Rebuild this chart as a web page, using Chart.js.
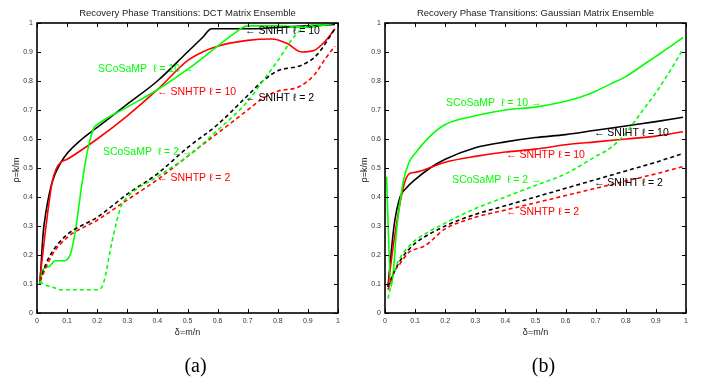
<!DOCTYPE html>
<html>
<head>
<meta charset="utf-8">
<script src="https://cdn.jsdelivr.net/npm/chart.js@4/dist/chart.umd.min.js"></script>
<style>
  html, body { margin: 0; padding: 0; background: #fff; }
  #wrap { position: relative; width: 708px; height: 381px; overflow: hidden; }
  canvas { position: absolute; top: 0; }
</style>
</head>
<body>
<div id="wrap">
  <canvas id="dct" width="354" height="381" style="left:0"></canvas>
  <canvas id="gauss" width="354" height="381" style="left:354px"></canvas>
</div>
<script>
// axis ticks (both panels)
const tickValues = [0, 0.1, 0.2, 0.3, 0.4, 0.5, 0.6, 0.7, 0.8, 0.9, 1];

// (a) DCT matrix ensemble, points are [delta, rho]
const dctSnihtL10 = [[0.01,0.10],[0.02,0.27],[0.03,0.35],[0.05,0.45],[0.08,0.52],[0.1,0.55],[0.15,0.60],[0.2,0.64],[0.3,0.72],[0.4,0.80],[0.5,0.90],[0.55,0.95],[0.58,0.98],[0.62,0.98],[0.7,0.98],[0.8,0.985],[0.9,0.99],[0.99,0.995]];
const dctSnhtpL10 = [[0.01,0.12],[0.03,0.30],[0.05,0.45],[0.065,0.50],[0.08,0.52],[0.1,0.53],[0.2,0.60],[0.3,0.68],[0.4,0.77],[0.5,0.87],[0.55,0.90],[0.6,0.92],[0.7,0.94],[0.78,0.945],[0.83,0.93],[0.88,0.90],[0.92,0.905],[0.96,0.94],[0.99,0.98]];
const dctScosampL10 = [[0.01,0.10],[0.02,0.15],[0.04,0.16],[0.06,0.18],[0.09,0.18],[0.11,0.20],[0.12,0.24],[0.13,0.30],[0.15,0.45],[0.17,0.57],[0.19,0.64],[0.2,0.65],[0.3,0.71],[0.4,0.77],[0.5,0.84],[0.6,0.92],[0.65,0.96],[0.7,0.99],[0.8,0.99],[0.9,0.985],[0.99,1.0]];
const dctSnihtL2 = [[0.01,0.11],[0.03,0.17],[0.05,0.21],[0.1,0.27],[0.2,0.33],[0.3,0.41],[0.4,0.48],[0.5,0.57],[0.6,0.65],[0.7,0.75],[0.75,0.80],[0.8,0.835],[0.88,0.855],[0.93,0.89],[0.99,0.98]];
const dctSnhtpL2 = [[0.01,0.11],[0.05,0.20],[0.1,0.26],[0.2,0.32],[0.3,0.39],[0.4,0.46],[0.5,0.54],[0.6,0.62],[0.7,0.70],[0.75,0.74],[0.8,0.765],[0.87,0.78],[0.92,0.82],[0.96,0.88],[0.99,0.92]];
const dctScosampL2 = [[0.01,0.11],[0.02,0.10],[0.05,0.09],[0.08,0.08],[0.15,0.08],[0.2,0.08],[0.22,0.10],[0.25,0.25],[0.28,0.37],[0.3,0.40],[0.4,0.47],[0.5,0.54],[0.6,0.63],[0.7,0.73],[0.75,0.80],[0.8,0.87],[0.86,0.96],[0.9,0.99],[0.95,0.995],[0.99,1.0]];

// (b) Gaussian matrix ensemble
const gaussSnihtL10 = [[0.01,0.09],[0.03,0.30],[0.05,0.40],[0.07,0.43],[0.1,0.46],[0.15,0.50],[0.2,0.53],[0.3,0.57],[0.4,0.59],[0.5,0.605],[0.6,0.615],[0.7,0.63],[0.8,0.645],[0.9,0.66],[0.99,0.675]];
const gaussSnhtpL10 = [[0.01,0.09],[0.03,0.25],[0.06,0.43],[0.08,0.48],[0.1,0.485],[0.2,0.52],[0.3,0.54],[0.4,0.555],[0.5,0.565],[0.6,0.58],[0.7,0.59],[0.8,0.60],[0.9,0.61],[0.99,0.625]];
const gaussScosampL10 = [[0.005,0.47],[0.02,0.09],[0.04,0.30],[0.06,0.45],[0.08,0.52],[0.1,0.55],[0.15,0.61],[0.2,0.65],[0.3,0.68],[0.4,0.70],[0.5,0.71],[0.6,0.73],[0.65,0.745],[0.7,0.765],[0.75,0.79],[0.8,0.815],[0.85,0.85],[0.9,0.885],[0.95,0.92],[0.99,0.95]];
const gaussSnihtL2 = [[0.01,0.09],[0.03,0.14],[0.05,0.18],[0.08,0.22],[0.1,0.24],[0.2,0.30],[0.3,0.34],[0.4,0.37],[0.5,0.40],[0.6,0.43],[0.7,0.46],[0.8,0.49],[0.9,0.52],[0.99,0.55]];
const gaussSnhtpL2 = [[0.01,0.08],[0.03,0.14],[0.05,0.17],[0.08,0.21],[0.1,0.22],[0.13,0.23],[0.2,0.29],[0.3,0.33],[0.4,0.355],[0.5,0.38],[0.6,0.405],[0.7,0.43],[0.8,0.455],[0.9,0.48],[0.99,0.505]];
const gaussScosampL2 = [[0.01,0.05],[0.03,0.14],[0.05,0.19],[0.08,0.23],[0.1,0.25],[0.2,0.31],[0.3,0.36],[0.4,0.40],[0.5,0.44],[0.6,0.48],[0.7,0.54],[0.75,0.57],[0.8,0.62],[0.85,0.69],[0.9,0.76],[0.95,0.84],[0.99,0.91]];

const GREEN = '#00ff00', RED = '#ff0000', BLACK = '#000000';

// text labels placed in data space
const dctNotes = [
  { text: 'SCoSaMP  ℓ = 10 →', x: 0.203, y: 0.841, color: GREEN },
  { text: '← SNHTP ℓ = 10', x: 0.399, y: 0.762, color: RED },
  { text: '← SNIHT ℓ = 10', x: 0.691, y: 0.972, color: BLACK },
  { text: '← SNIHT ℓ = 2', x: 0.691, y: 0.741, color: BLACK },
  { text: 'SCoSaMP  ℓ = 2 →', x: 0.219, y: 0.555, color: GREEN },
  { text: '← SNHTP ℓ = 2', x: 0.399, y: 0.466, color: RED }
];
const gaussNotes = [
  { text: 'SCoSaMP  ℓ = 10 →', x: 0.203, y: 0.724, color: GREEN },
  { text: '← SNIHT ℓ = 10', x: 0.694, y: 0.621, color: BLACK },
  { text: '← SNHTP ℓ = 10', x: 0.402, y: 0.545, color: RED },
  { text: 'SCoSaMP  ℓ = 2 →', x: 0.223, y: 0.459, color: GREEN },
  { text: '← SNIHT ℓ = 2', x: 0.694, y: 0.448, color: BLACK },
  { text: '← SNHTP ℓ = 2', x: 0.402, y: 0.348, color: RED }
];

const SANS = '"Liberation Sans", Arial, sans-serif';

/**
 * Box, inward ticks, titles, caption and labels
 */
const framePlugin = {
  id: 'frame',
  afterDraw(chart, args, opts) {
    const { ctx, chartArea: a, scales: { x, y } } = chart;
    ctx.save();

    // inward tick marks on all four sides
    ctx.beginPath();
    ctx.strokeStyle = '#000';
    ctx.lineWidth = 1;
    for (const v of tickValues) {
      const px = Math.round(x.getPixelForValue(v)) + 0.5;
      ctx.moveTo(px, a.bottom); ctx.lineTo(px, a.bottom - 4);
      ctx.moveTo(px, a.top); ctx.lineTo(px, a.top + 4);
      const py = Math.round(y.getPixelForValue(v)) + 0.5;
      ctx.moveTo(a.left, py); ctx.lineTo(a.left + 4, py);
      ctx.moveTo(a.right, py); ctx.lineTo(a.right - 4, py);
    }
    ctx.stroke();
    ctx.lineWidth = 1.6;
    ctx.strokeRect(a.left, a.top, a.width, a.height);

    const cx = (a.left + a.right) / 2;

    // title
    ctx.fillStyle = '#222';
    ctx.font = '9.5px ' + SANS;
    ctx.textAlign = 'center';
    ctx.textBaseline = 'middle';
    ctx.fillText(opts.title, cx, 13);

    // axis titles
    ctx.font = '9px ' + SANS;
    ctx.fillText('δ=m/n', cx, 333);
    ctx.save();
    ctx.translate(a.left - 20, (a.top + a.bottom) / 2 + 2);
    ctx.rotate(-Math.PI / 2);
    ctx.fillText('ρ=k/m', 0, 0);
    ctx.restore();

    // caption
    ctx.fillStyle = '#000';
    ctx.font = '20px "Liberation Serif", "Times New Roman", serif';
    ctx.fillText(opts.caption, cx + 8, 367);

    // curve labels
    ctx.font = '10.5px ' + SANS;
    ctx.textAlign = 'left';
    for (const n of opts.notes) {
      ctx.fillStyle = n.color;
      ctx.fillText(n.text, x.getPixelForValue(n.x), y.getPixelForValue(n.y));
    }
    ctx.restore();
  }
};

function line(points, color, dashed) {
  return {
    data: points.map(p => ({ x: p[0], y: p[1] })),
    borderColor: color,
    borderWidth: 1.6,
    borderDash: dashed ? [4, 3] : [],
    pointRadius: 0,
    cubicInterpolationMode: 'monotone',
    fill: false
  };
}

function makeChart(id, series, opts) {
  const tickFont = { size: 7, family: SANS };
  return new Chart(document.getElementById(id), {
    type: 'line',
    data: { datasets: series },
    options: {
      responsive: false,
      animation: false,
      layout: { padding: { top: 23, left: 0, right: opts.padRight, bottom: 0 } },
      plugins: {
        legend: { display: false },
        tooltip: { enabled: false },
        frame: opts
      },
      scales: {
        x: {
          type: 'linear', min: 0, max: 1,
          grid: { display: false, drawTicks: false },
          border: { display: false },
          ticks: {
            stepSize: 0.1, font: tickFont, color: '#333', padding: 4, maxRotation: 0,
            callback: v => String(+v.toFixed(1))
          },
          afterFit: s => { s.height = 68; }
        },
        y: {
          type: 'linear', min: 0, max: 1,
          grid: { display: false, drawTicks: false },
          border: { display: false },
          ticks: {
            stepSize: 0.1, font: tickFont, color: '#333', padding: 4,
            callback: v => String(+v.toFixed(1))
          },
          afterFit: s => { s.width = opts.axisWidth; }
        }
      }
    },
    plugins: [framePlugin]
  });
}

makeChart('dct', [
  line(dctScosampL2, GREEN, true),
  line(dctSnhtpL2, RED, true),
  line(dctSnihtL2, BLACK, true),
  line(dctScosampL10, GREEN, false),
  line(dctSnhtpL10, RED, false),
  line(dctSnihtL10, BLACK, false)
], {
  title: 'Recovery Phase Transitions: DCT Matrix Ensemble',
  caption: '(a)',
  notes: dctNotes,
  axisWidth: 37,
  padRight: 16
});

makeChart('gauss', [
  line(gaussScosampL2, GREEN, true),
  line(gaussSnhtpL2, RED, true),
  line(gaussSnihtL2, BLACK, true),
  line(gaussScosampL10, GREEN, false),
  line(gaussSnhtpL10, RED, false),
  line(gaussSnihtL10, BLACK, false)
], {
  title: 'Recovery Phase Transitions: Gaussian Matrix Ensemble',
  caption: '(b)',
  notes: gaussNotes,
  axisWidth: 31,
  padRight: 22
});
</script>
</body>
</html>
